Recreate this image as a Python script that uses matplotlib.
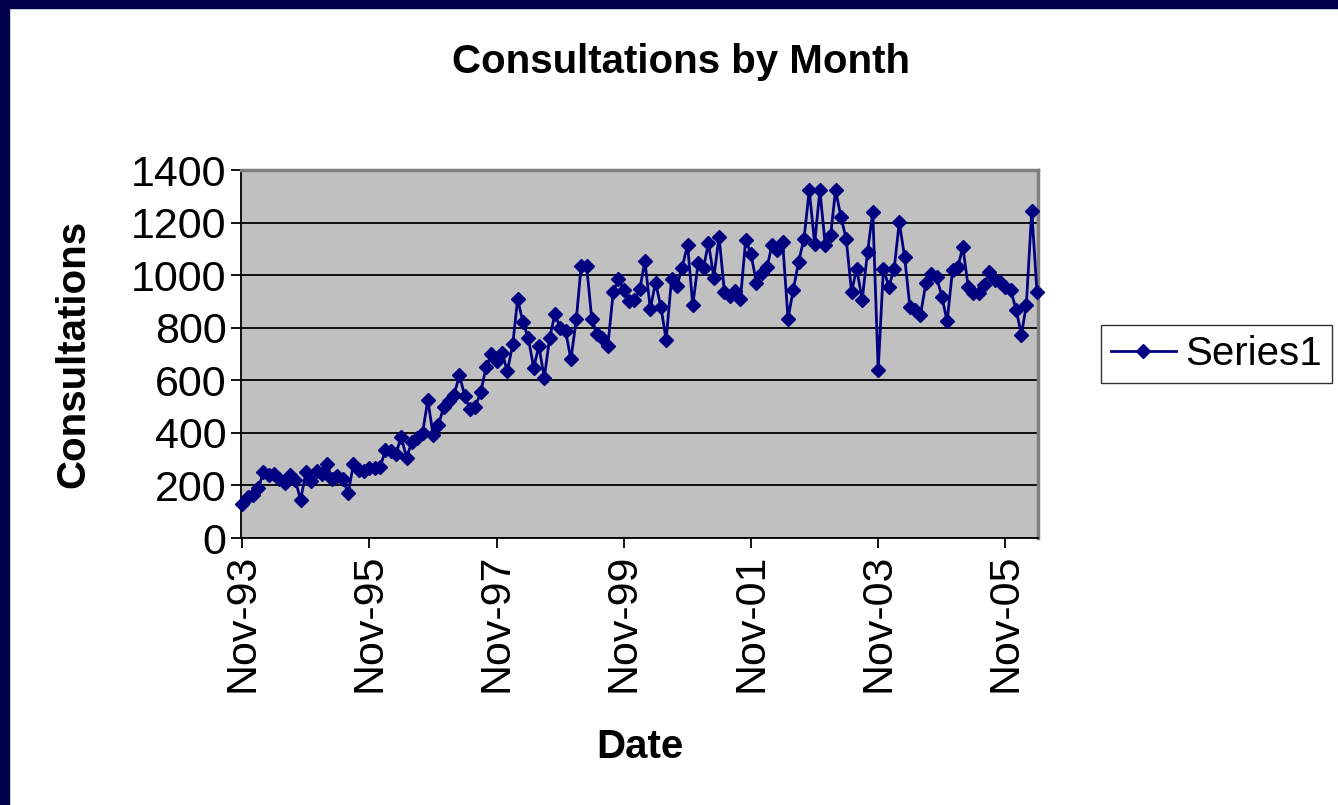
import matplotlib
matplotlib.use("Agg")
import matplotlib.pyplot as plt
import matplotlib.dates as mdates
from matplotlib.patches import Rectangle
import pandas as pd

plt.rcParams["font.family"] = ["Liberation Sans", "DejaVu Sans"]

# Monthly consultations, Nov-93 .. May-06
vals_93_95 = [130, 155, 165, 190, 250, 240, 245, 225, 210, 240, 220, 145, 250,
              215, 255, 245, 280, 225, 235, 225, 170, 280, 260, 255, 265]
vals_95_97 = [265, 270, 335, 330, 320, 385, 305, 365, 380, 400, 525, 390, 430,
              500, 520, 545, 620, 540, 490, 500, 555, 650, 700]
vals_97_00 = [674, 705, 635, 737, 909, 820, 762, 648, 730, 610, 762, 851, 800,
              788, 680, 832, 1036, 1036, 832, 775, 760, 730, 935, 985, 945,
              900, 905, 947, 1054]
vals_00_01 = [872, 972, 879, 754, 985, 960, 1029, 1116, 885, 1047, 1029, 1122,
              991, 1147, 935, 922, 941, 910, 1135, 1079, 972]
vals_02_03 = [1010, 1032, 1114, 1095, 1127, 835, 943, 1051, 1139, 1323, 1120,
              1323, 1114, 1152, 1323, 1222, 1139, 937, 1025, 905, 1089, 1241,
              639, 1025, 956]
vals_04_06 = [1025, 1201, 1069, 880, 868, 849, 969, 1006, 994, 918, 824, 1019,
              1031, 1107, 956, 931, 931, 962, 1013, 981, 975, 956, 945, 868,
              774, 887, 1245, 937]
consultations = (vals_93_95 + vals_95_97 + vals_97_00 + vals_00_01
                 + vals_02_03 + vals_04_06)
dates = pd.date_range("1993-11-01", periods=len(consultations), freq="MS")

navy = "#000080"

fig = plt.figure(figsize=(13.38, 8.05), dpi=100)
fig.patch.set_facecolor("white")
# slide border (navy strips top and left)
fig.patches.append(Rectangle((0, 1 - 8 / 805), 1, 8 / 805, transform=fig.transFigure,
                             color="#00004a", zorder=0))
fig.patches.append(Rectangle((0, 0), 9 / 1338, 1, transform=fig.transFigure,
                             color="#00004a", zorder=0))

ax = fig.add_axes([241 / 1338, 1 - 538 / 805, (1038 - 241) / 1338, (538 - 170) / 805])
ax.set_facecolor("#c0c0c0")
line, = ax.plot(dates, consultations, color=navy, lw=2.0, marker="D", ms=7.5,
                mec=navy, mfc=navy, label="Series1", clip_on=False, zorder=3)

ax.set_ylim(0, 1400)
ax.set_yticks(range(0, 1401, 200))
ax.set_xlim(dates[0] - pd.Timedelta(days=8), dates[-1] + pd.Timedelta(days=6))
ax.set_xticks(dates[::24])
ax.xaxis.set_major_formatter(mdates.DateFormatter("%b-%y"))
ax.grid(axis="y", color="black", lw=1.3)
ax.set_axisbelow(True)

for s in ("left", "bottom"):
    ax.spines[s].set_color("black")
    ax.spines[s].set_linewidth(1.3)
for s in ("top", "right"):
    ax.spines[s].set_color("#808080")
    ax.spines[s].set_linewidth(2.5)

ax.tick_params(axis="both", labelsize=31, length=7, width=1.3, color="black")
ax.tick_params(axis="x", rotation=90, pad=4)

ax.set_ylabel("Consultations", fontsize=29, fontweight="bold", labelpad=28)
ax.set_xlabel("Date", fontsize=29, fontweight="bold", labelpad=26)
fig.text(681 / 1338, 1 - 62 / 805, "Consultations by Month", fontsize=29,
         fontweight="bold", ha="center", va="center")

leg = fig.legend(handles=[line], loc="upper left", bbox_to_anchor=(1101 / 1338, 1 - 325 / 805),
                 fontsize=29, frameon=True, fancybox=False, handlelength=1.6,
                 borderpad=0.25, handletextpad=0.25, borderaxespad=0)
leg.get_frame().set_edgecolor("black")
leg.get_frame().set_linewidth(1.0)

fig.savefig("out.png", dpi=100)
